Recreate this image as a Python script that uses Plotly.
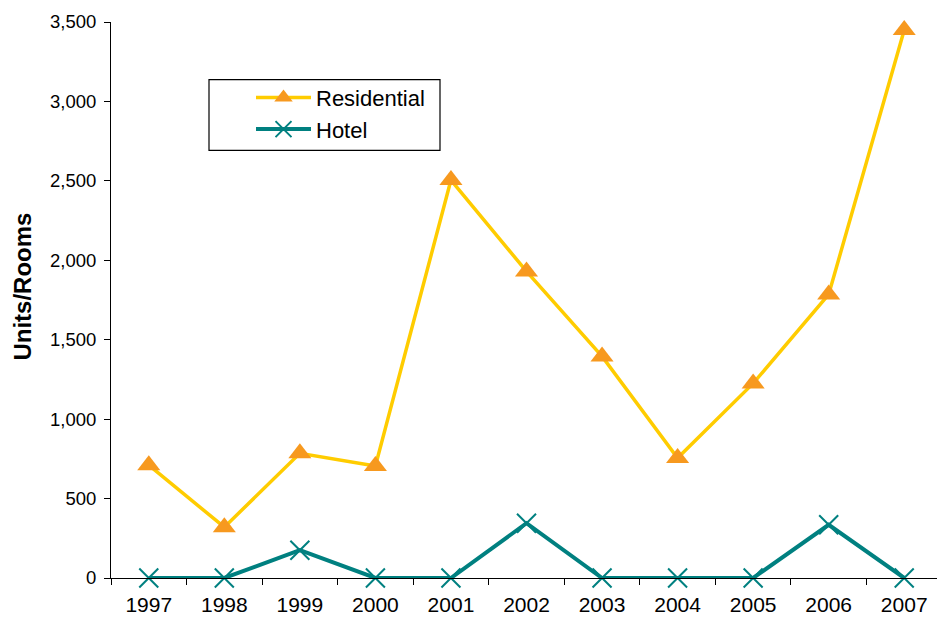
import plotly.graph_objects as go

years = ["1997", "1998", "1999", "2000", "2001", "2002", "2003", "2004", "2005", "2006", "2007"]
residential = [710, 320, 785, 705, 2505, 1930, 1395, 755, 1225, 1785, 3450]
hotel = [0, 0, 175, 0, 0, 345, 0, 0, 0, 335, 0]
y_ticks = [0, 500, 1000, 1500, 2000, 2500, 3000, 3500]
y_tick_labels = ["0", "500", "1,000", "1,500", "2,000", "2,500", "3,000", "3,500"]

# page body has an 8px offset; plot area in figure px
L, R, T, B = 103, 934, 11, 570
W, H = 937, 621
PW, PH = R - L, B - T

def px(x):
    return (x - L) / PW

def py(y):
    return (B - y) / PH

fig = go.Figure()
fig.add_trace(go.Scatter(
    x=years, y=residential, name="Residential", mode="lines+markers",
    line=dict(color="#FFCC00", width=3.5),
    marker=dict(symbol="triangle-up", size=20, color="#F7991F", line=dict(width=0)),
    legendgroup="r", cliponaxis=False,
))
fig.add_trace(go.Scatter(
    x=years, y=hotel, name="Hotel", mode="lines+markers",
    line=dict(color="#008080", width=4),
    marker=dict(symbol="x-thin-open", size=19, color="#008080", line=dict(width=2, color="#008080")),
    legendgroup="h", cliponaxis=False,
))

fig.update_layout(
    width=W, height=H,
    margin=dict(l=L, r=W - R, t=T, b=H - B),
    paper_bgcolor="white", plot_bgcolor="white",
    font=dict(family="Liberation Sans, Arial, sans-serif", size=18, color="black"),
    showlegend=True,
    legend=dict(
        x=px(243), y=py(66), xanchor="left", yanchor="top",
        bgcolor="rgba(0,0,0,0)", borderwidth=0,
        font=dict(size=22), tracegroupgap=0, itemwidth=55,
    ),
    shapes=[dict(type="rect", xref="paper", yref="paper",
                 x0=px(201), x1=px(432), y0=py(140), y1=py(69),
                 line=dict(color="black", width=1.2), fillcolor="rgba(0,0,0,0)")],
    annotations=[dict(text="<b>Units/Rooms</b>", xref="paper", yref="paper",
                      x=px(15), y=py(277), xanchor="center", yanchor="middle",
                      textangle=-90, showarrow=False, font=dict(size=24))],
)
fig.update_xaxes(
    type="category", showline=True, linecolor="black", linewidth=1,
    ticks="outside", ticklen=6, tickcolor="black", tickson="boundaries",
    showgrid=False, zeroline=False, range=[-0.5, 10.5],
    tickfont=dict(size=21), ticklabelstandoff=8,
)
fig.update_yaxes(
    range=[0, 3500], tickvals=y_ticks, ticktext=y_tick_labels,
    showline=True, linecolor="black", linewidth=1,
    ticks="outside", ticklen=6, tickcolor="black",
    showgrid=False, zeroline=False, tickfont=dict(size=18.5), ticklabelstandoff=4,
)
fig.write_html("out.html")
